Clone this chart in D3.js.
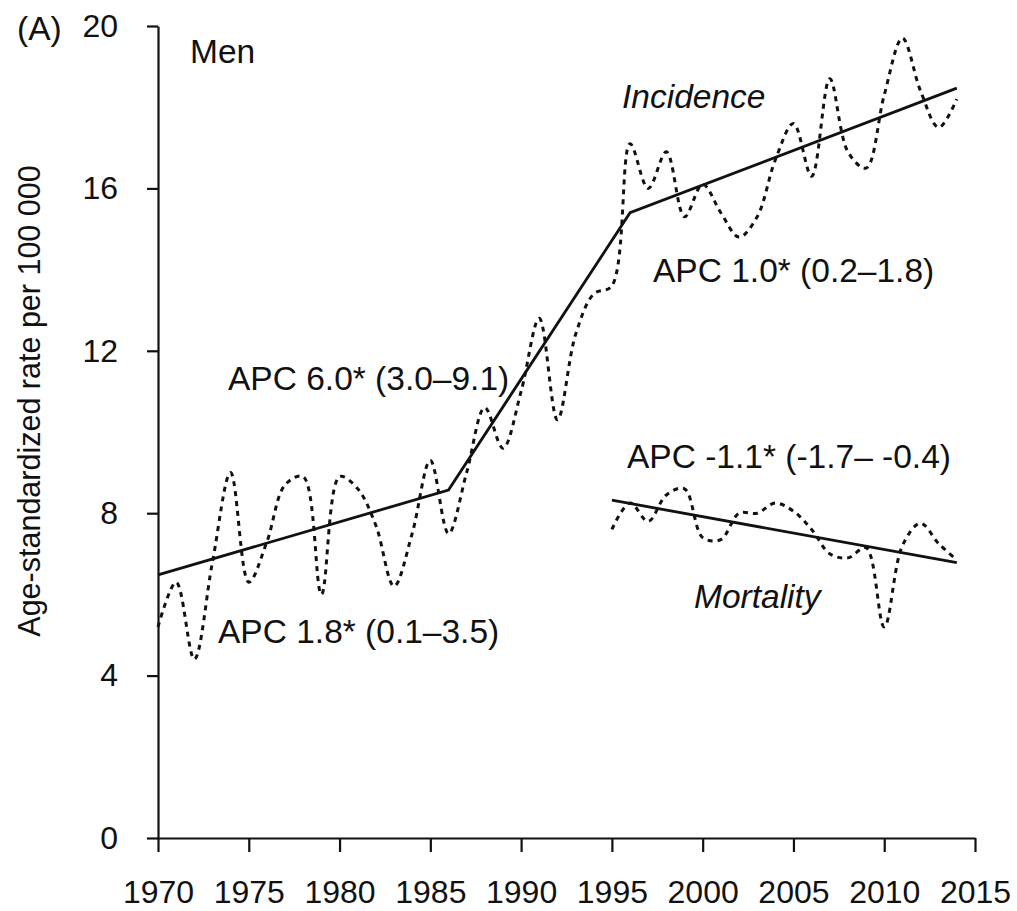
<!DOCTYPE html>
<html>
<head>
<meta charset="utf-8">
<script src="https://cdn.jsdelivr.net/npm/d3@7"></script>
<style>
  html, body { margin: 0; padding: 0; background: #fff; }
  svg { display: block; font-family: "Liberation Sans", Arial, sans-serif; }
</style>
</head>
<body>
<div id="chart"></div>
<script>
// == DATA ==
const incYears = d3.range(1970, 2015);
const incidence = [5.2, 6.3, 4.4, 6.8, 9.0, 6.3, 7.3, 8.7, 8.9, 6.0,
  8.9, 8.6, 7.7, 6.2, 7.5, 9.3, 7.5, 9.0, 10.6, 9.6,
  11.0, 12.8, 10.3, 12.4, 13.4, 13.6, 17.1, 16.0, 16.9, 15.3,
  16.1, 15.4, 14.8, 15.3, 16.7, 17.6, 16.3, 18.7, 16.9, 16.5,
  18.3, 19.7, 18.4, 17.5, 18.2];

const morYears = d3.range(1995, 2015);
const mortality = [7.6, 8.25, 7.8, 8.45, 8.6, 7.4, 7.35, 8.0, 8.0, 8.25,
  8.05, 7.6, 7.0, 6.9, 7.15, 5.2, 7.2, 7.75, 7.25, 6.85];

// joinpoint trend lines
const incTrendYears = [1970, 1986, 1996, 2014];
const incTrend = [6.48, 8.57, 15.4, 18.47];
const morTrendYears = [1995, 2014];
const morTrend = [8.32, 6.78];

const xTicks = [1970, 1975, 1980, 1985, 1990, 1995, 2000, 2005, 2010, 2015];
const yTicks = [0, 4, 8, 12, 16, 20];

// == SETUP ==
const W = 1017, H = 911;
const TICK_FONT = 32;
const NOTE_FONT = 33.5;

const svg = d3.select('#chart').append('svg')
  .attr('width', W)
  .attr('height', H);

const x = d3.scaleLinear().domain([1970, 2015]).range([158, 975]);
const y = d3.scaleLinear().domain([0, 20]).range([838, 26]);

// axes
const gx = svg.append('g')
  .attr('transform', `translate(0,${y(0)})`)
  .call(d3.axisBottom(x).tickValues(xTicks).tickFormat(d3.format('d'))
    .tickSize(14).tickPadding(28).tickSizeOuter(0));

const gy = svg.append('g')
  .attr('transform', `translate(${x(1970)},0)`)
  .call(d3.axisLeft(y).tickValues(yTicks).tickSize(11).tickPadding(29).tickSizeOuter(0));

[gx, gy].forEach(g => {
  g.select('.domain').attr('stroke', '#111').attr('stroke-width', 2.2);
  g.selectAll('.tick line').attr('stroke', '#111').attr('stroke-width', 2.2);
  g.selectAll('.tick text')
    .attr('fill', '#111')
    .attr('font-size', TICK_FONT)
    .attr('font-family', '"Liberation Sans", Arial, sans-serif');
});

// y axis title
svg.append('text')
  .attr('transform', `translate(40,401) rotate(-90)`)
  .attr('text-anchor', 'middle')
  .attr('font-size', 30.5)
  .attr('fill', '#111')
  .text('Age-standardized rate per 100 000');

// == LINES ==
const dashed = d3.line()
  .x(d => x(d[0]))
  .y(d => y(d[1]))
  .curve(d3.curveCatmullRom.alpha(0.5));

const straight = d3.line()
  .x(d => x(d[0]))
  .y(d => y(d[1]));

svg.append('path')
  .datum(d3.zip(incYears, incidence))
  .attr('d', dashed)
  .attr('fill', 'none')
  .attr('stroke', '#111')
  .attr('stroke-width', 3)
  .attr('stroke-dasharray', '5,5');

svg.append('path')
  .datum(d3.zip(morYears, mortality))
  .attr('d', dashed)
  .attr('fill', 'none')
  .attr('stroke', '#111')
  .attr('stroke-width', 3)
  .attr('stroke-dasharray', '5,5');

svg.append('path')
  .datum(d3.zip(incTrendYears, incTrend))
  .attr('d', straight)
  .attr('fill', 'none')
  .attr('stroke', '#111')
  .attr('stroke-width', 2.8);

svg.append('path')
  .datum(d3.zip(morTrendYears, morTrend))
  .attr('d', straight)
  .attr('fill', 'none')
  .attr('stroke', '#111')
  .attr('stroke-width', 2.8);

// == LABELS ==
const labels = [
  { t: '(A)', x: 17, y: 40, italic: false },
  { t: 'Men', x: 190, y: 63, italic: false },
  { t: 'Incidence', x: 622, y: 108, italic: true },
  { t: 'Mortality', x: 694, y: 608, italic: true },
  { t: 'APC 6.0* (3.0–9.1)', x: 228, y: 390, italic: false },
  { t: 'APC 1.8* (0.1–3.5)', x: 218, y: 643, italic: false },
  { t: 'APC 1.0* (0.2–1.8)', x: 653, y: 282, italic: false },
  { t: 'APC -1.1* (-1.7– -0.4)', x: 627, y: 468, italic: false }
];

svg.selectAll('text.note')
  .data(labels)
  .enter().append('text')
  .attr('class', 'note')
  .attr('x', d => d.x)
  .attr('y', d => d.y)
  .attr('font-size', NOTE_FONT)
  .attr('font-style', d => d.italic ? 'italic' : 'normal')
  .attr('fill', '#111')
  .text(d => d.t);
</script>
</body>
</html>
